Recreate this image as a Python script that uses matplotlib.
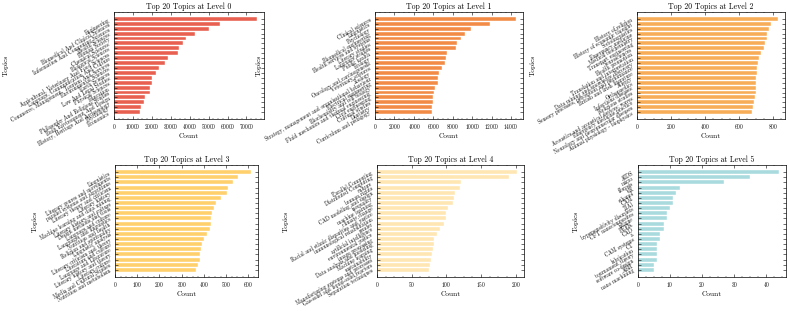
import numpy as np
import matplotlib
matplotlib.use('Agg')
import matplotlib.pyplot as plt
from matplotlib.ticker import MultipleLocator

plt.rcParams['font.family'] = ['cmr10', 'DejaVu Serif']
plt.rcParams['axes.formatter.use_mathtext'] = True
plt.rcParams['xtick.direction'] = 'in'
plt.rcParams['ytick.direction'] = 'in'
plt.rcParams['xtick.top'] = True
plt.rcParams['ytick.right'] = True
plt.rcParams['xtick.minor.visible'] = True
plt.rcParams['axes.linewidth'] = 0.5

# level 0
topics0 = ['Engineering', 'Biomedical And Clinical Sciences', 'Information And Computing Sciences',
           'Health Sciences', 'Human Society', 'Chemical Sciences', 'Biological Sciences',
           'Agricultural, Veterinary And Food Sciences', 'Language, Communication And Culture',
           'Commerce, Management, Tourism And Services', 'Environmental Sciences', 'Earth Sciences',
           'Law And Legal Studies', 'Physical Sciences', 'Education',
           'Philosophy And Religious Studies', 'Built Environment And Design',
           'History, Heritage And Archaeology', 'Psychology', 'Economics']
counts0 = [75500, 56200, 50200, 42900, 38300, 36500, 34500, 33800, 28500, 26900,
           23800, 22100, 20100, 19900, 19200, 18900, 16400, 15900, 14100, 13800]

# level 1
topics1 = ['Clinical sciences', 'Linguistics', 'Psychology', 'Biomedical engineering',
           'Health services and systems', 'Literary studies', 'Language studies',
           'Public health', 'Ecology', 'Oncology and carcinogenesis', 'Veterinary sciences',
           'Zoology', 'Strategy, management and organisational behaviour',
           'Electrical engineering', 'Biochemistry and cell biology',
           'Fluid mechanics and thermal engineering', 'Civil engineering',
           'Cultural studies', 'Dentistry', 'Curriculum and pedagogy']
counts1 = [14500, 11800, 9900, 9300, 8800, 8400, 8350, 7400, 7300, 7250,
           6900, 6550, 6500, 6480, 6150, 6100, 6000, 5950, 5850, 5830]

# level 2
topics2 = ['History of religion', 'History of economic thought', 'Sociolinguistics',
           'Emergency medicine', 'Medical biochemistry', 'Transport engineering',
           'Neurosciences', 'Health promotion', 'Translation and interpretation',
           'Data mining and knowledge discovery',
           'Sensory processes, perception and performance', 'British and Irish literature',
           'Allergy', 'Orthopaedics', 'Infectious diseases', 'Religious studies',
           'Acoustics and acoustical devices; waves', 'Emergency medicine practice',
           'Neurology and neuromuscular diseases', 'Animal physiology - biophysics']
counts2 = [831, 789, 777, 769, 765, 755, 748, 730, 718, 714,
           710, 706, 704, 703, 702, 699, 697, 687, 683, 679]

# level 3
topics3 = ['Linguistics', 'Literary genres and movements', 'parallel systems and algorithms',
           'Literary theory and criticism', 'Literary history', 'Machine learning and data mining',
           'Literary history and culture', 'Design methods and tools', 'Language and culture',
           'Languages and linguistics', 'Nutrition and health', 'Religion and spirituality',
           'Linguistic analysis', 'Literary criticism and theory', 'Literature and culture',
           'Language and Literature', 'Literary history and theory', 'Literary culture',
           'Media and Cultural Studies', 'Nutrition and metabolism']
counts3 = [613, 555, 531, 509, 506, 479, 456, 445, 435, 432,
           430, 429, 416, 402, 392, 387, 383, 382, 372, 366]

# level 4
topics4 = ['Parallel Computing', 'Distributed Computing', 'culture', 'human rights',
           'CAD modeling and design', 'inequality', 'machine learning', 'climate change',
           'Racial and ethnic disparities and justice', 'immunological rehabilitation',
           'gender', 'artificial intelligence', 'environmental justice', 'image processing',
           'Data analysis and modeling', 'Machine learning', 'sustainability',
           'Manufacturing systems and processes', 'Gas-solid and liquid-solid reactors',
           'Separation techniques']
counts4 = [202, 190, 121, 120, 113, 111, 109, 102, 100, 99,
           96, 91, 87, 82, 82, 81, 79, 78, 76, 75]

# level 5
topics5 = ['AIDS', 'micro', 'fibrosis', 'VR', 'ethanol', 'CAM', 'TiAl',
           'hypersensitivity disorders', 'CFT nanocomposites', 'fatigue', 'PEEK', 'CAD', 'a',
           'CAM systems', 'CT', 'lubrication', 'tournament theory', 'software co-design',
           'ABR', 'nano machining']
counts5 = [44, 35, 27, 13, 12, 11, 11, 10, 9, 9, 8, 8, 7, 7, 6, 6, 6, 6, 5, 5]

topics = [topics0, topics1, topics2, topics3, topics4, topics5]
counts = [counts0, counts1, counts2, counts3, counts4, counts5]
colors = ['#E8604F', '#F28B46', '#F7AC57', '#FFD06C', '#FFE6B3', '#A9DADD']
xsteps = [10000, 2000, 200, 100, 50, 10]

W, H = 789, 311
# axes boxes in pixels: left, top, right, bottom
boxes = [(114, 12, 264, 119), (375, 12, 523, 119), (637, 12, 785, 119),
         (115, 165, 258, 277), (377, 165, 524, 277), (638, 165, 786, 277)]

fig = plt.figure(figsize=(W / 100, H / 100), dpi=100)
for i in range(6):
    l, t, r, b = boxes[i]
    ax = fig.add_axes([l / W, 1 - b / H, (r - l) / W, (b - t) / H])
    y = np.arange(len(topics[i]))
    ax.barh(y, counts[i], height=0.8, color=colors[i], edgecolor='white', linewidth=0.3)
    ax.set_yticks(y)
    ax.set_yticklabels(topics[i], rotation=30, ha='right', rotation_mode='anchor', fontsize=3.9)
    ax.invert_yaxis()
    ax.xaxis.set_major_locator(MultipleLocator(xsteps[i]))
    ax.xaxis.set_minor_locator(MultipleLocator(xsteps[i] / 4))
    ax.set_title('Top 20 Topics at Level %d' % i, fontsize=5.6, pad=2)
    ax.set_xlabel('Count', fontsize=5.3, labelpad=1.5)
    ax.set_ylabel('Topics', fontsize=5.3, labelpad=1)
    ax.tick_params(axis='x', labelsize=3.9, pad=2)
    ax.tick_params(which='major', length=2, width=0.4)
    ax.tick_params(which='minor', length=1, width=0.3)
    ax.tick_params(axis='y', which='minor', left=False, right=False)

fig.savefig('out.png', dpi=100)
